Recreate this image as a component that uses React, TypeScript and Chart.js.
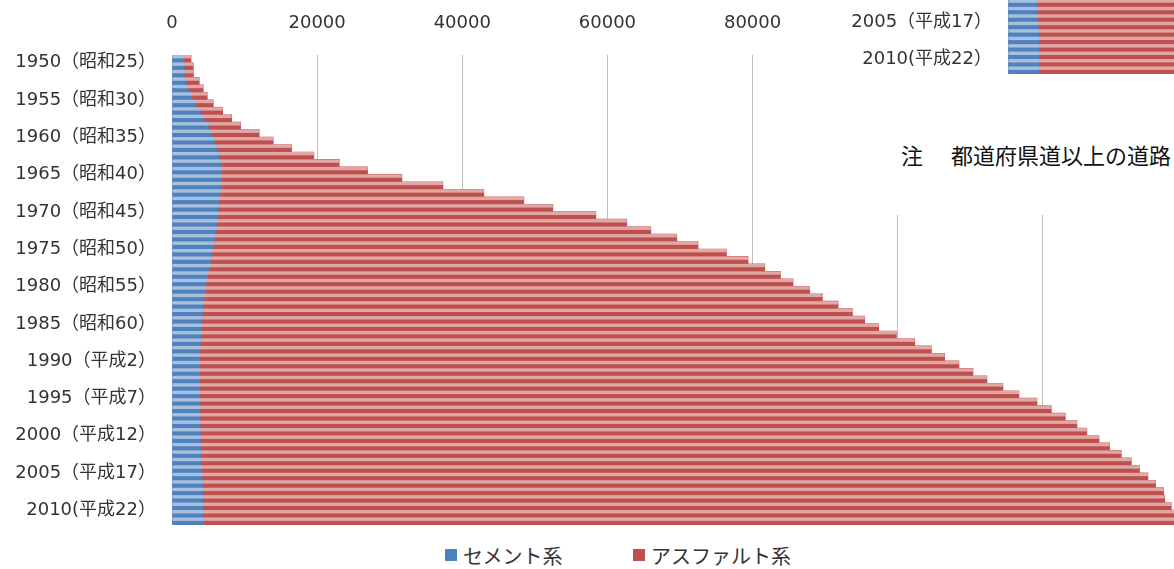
import React, { useEffect, useRef } from 'react';
import { Chart, registerables } from 'chart.js';

Chart.register(...registerables);

// Paved road length (km) by surface type, 1950–2012
const years = [
  1950, 1951, 1952, 1953, 1954, 1955, 1956, 1957, 1958, 1959,
  1960, 1961, 1962, 1963, 1964, 1965, 1966, 1967, 1968, 1969,
  1970, 1971, 1972, 1973, 1974, 1975, 1976, 1977, 1978, 1979,
  1980, 1981, 1982, 1983, 1984, 1985, 1986, 1987, 1988, 1989,
  1990, 1991, 1992, 1993, 1994, 1995, 1996, 1997, 1998, 1999,
  2000, 2001, 2002, 2003, 2004, 2005, 2006, 2007, 2008, 2009,
  2010, 2011, 2012,
];

const yearTickLabels = [
  '1950（昭和25）', '1955（昭和30）', '1960（昭和35）', '1965（昭和40）',
  '1970（昭和45）', '1975（昭和50）', '1980（昭和55）', '1985（昭和60）',
  '1990（平成2）', '1995（平成7）', '2000（平成12）', '2005（平成17）',
  '2010(平成22）',
];

const cementKm = [
  1560, 1700, 1700, 1930, 2200, 2710, 3170, 3860, 4410, 5000,
  5470, 5830, 6150, 6510, 6700, 6840, 6820, 6700, 6610, 6470,
  6400, 6340, 6200, 6060, 5850, 5690, 5510, 5300, 5100, 4890,
  4680, 4550, 4410, 4270, 4200, 4130, 4060, 3990, 3930, 3860,
  3790, 3780, 3780, 3790, 3800, 3820, 3830, 3840, 3850, 3870,
  3900, 3910, 3930, 3950, 3980, 4060, 4150, 4200, 4250, 4270,
  4290, 4300, 4310,
];

const asphaltKm = [
  1060, 1230, 1250, 1830, 2110, 2150, 2520, 3120, 3810, 4460,
  6550, 8120, 10330, 13040, 16340, 20110, 24860, 30630, 36360, 42010,
  46080, 52060, 56470, 59920, 63710, 66800, 70890, 74080, 76580, 78950,
  80900, 83330, 85220, 87510, 89560, 91320, 93320, 95830, 98410, 100780,
  102680, 104660, 106590, 108510, 110700, 112890, 115360, 117330, 119250, 120830,
  122170, 123820, 125270, 126860, 128210, 129270, 130330, 131340, 132390, 132530,
  133410, 134100, 134690,
];

const seriesNames = ['セメント系', 'アスファルト系'];
const seriesColors = ['#4F81BD', '#C0504D'];
const axisMin = 0;
const axisMax = 140000;
const axisStep = 20000;
const noteHead = '注';
const noteBody = '都道府県道以上の道路';

const FONT = "'DejaVu Sans', 'Noto Sans CJK JP', sans-serif";
const CJK_FONT = "'Noto Sans CJK JP', 'DejaVu Sans', sans-serif";
const TEXT_COLOR = '#333333';

// Lightens the upper part of every bar to give the banded look
const barSheen = {
  id: 'barSheen',
  afterDatasetsDraw(chart: any) {
    const ctx = chart.ctx;
    ctx.save();
    ctx.fillStyle = 'rgba(255,255,255,0.5)';
    chart.data.datasets.forEach((_: any, di: number) => {
      const meta = chart.getDatasetMeta(di);
      meta.data.forEach((bar: any) => {
        const { x, y, base, height } = bar.getProps(['x', 'y', 'base', 'height'], true);
        const left = Math.min(x, base);
        const w = Math.abs(x - base);
        const top = y - height / 2;
        ctx.fillRect(left, top, w, height * 0.45);
      });
    });
    ctx.restore();
  },
};

const CANVAS_W = 1200;
const CANVAS_H = 530;

function RoadFigure() {
  const ref = useRef<HTMLCanvasElement>(null);

  useEffect(() => {
    const canvas = ref.current;
    if (!canvas) return;
    const chart = new Chart(canvas, {
      type: 'bar',
      data: {
        labels: years.map(String),
        datasets: [
          {
            label: seriesNames[0],
            data: cementKm,
            backgroundColor: seriesColors[0],
            borderWidth: 0,
            barPercentage: 1,
            categoryPercentage: 1,
          },
          {
            label: seriesNames[1],
            data: asphaltKm,
            backgroundColor: seriesColors[1],
            borderWidth: 0,
            barPercentage: 1,
            categoryPercentage: 1,
          },
        ],
      },
      options: {
        indexAxis: 'y',
        responsive: true,
        maintainAspectRatio: false,
        animation: false,
        devicePixelRatio: 1,
        layout: { padding: { left: 0, right: 12, top: 0, bottom: 5 } },
        plugins: {
          legend: { display: false },
          tooltip: { enabled: false },
        },
        scales: {
          x: {
            position: 'top',
            stacked: true,
            min: axisMin,
            max: axisMax,
            z: 1,
            border: { display: false },
            grid: {
              color: 'rgba(110,110,110,0.45)',
              lineWidth: 1,
              drawTicks: false,
            },
            ticks: {
              stepSize: axisStep,
              padding: 21,
              color: TEXT_COLOR,
              font: { family: FONT, size: 18 },
              callback: (v: any) => String(v),
            },
            afterFit: (scale: any) => {
              scale.height = 55;
              scale.paddingLeft = 0;
              scale.paddingRight = 0;
            },
          },
          y: {
            stacked: true,
            border: { display: false },
            grid: { display: false },
            ticks: {
              autoSkip: false,
              padding: 8,
              labelOffset: 4,
              color: TEXT_COLOR,
              font: { family: FONT, size: 18 },
              callback: (_v: any, i: number) => {
                const yr = years[i];
                return yr % 5 === 0 ? yearTickLabels[(yr - years[0]) / 5] : '';
              },
            },
            afterFit: (scale: any) => {
              scale.width = 172;
              scale.paddingTop = 0;
              scale.paddingBottom = 0;
            },
          },
        },
      },
      plugins: [barSheen],
    } as any);
    return () => chart.destroy();
  }, []);

  const legendItem = (i: number, left: number) => (
    <div
      key={i}
      style={{
        position: 'absolute',
        left,
        top: 543,
        height: 24,
        display: 'flex',
        alignItems: 'center',
        whiteSpace: 'nowrap',
        fontFamily: CJK_FONT,
        fontSize: 20,
        color: TEXT_COLOR,
      }}
    >
      <span
        style={{
          display: 'inline-block',
          width: 12,
          height: 12,
          background: seriesColors[i],
          marginRight: 6,
        }}
      />
      {seriesNames[i]}
    </div>
  );

  const noteStyle = {
    position: 'absolute' as const,
    top: 592,
    fontFamily: CJK_FONT,
    fontSize: 22,
    lineHeight: '26px',
    color: '#111',
    whiteSpace: 'nowrap' as const,
  };

  return (
    <div style={{ position: 'relative', width: 1244, height: 668, background: '#fff' }}>
      <div style={{ position: 'absolute', left: 0, top: 0, width: CANVAS_W, height: CANVAS_H }}>
        <canvas ref={ref} />
      </div>
      {legendItem(0, 445)}
      {legendItem(1, 633)}
      <div style={{ ...noteStyle, left: 65 }}>{noteHead}</div>
      <div style={{ ...noteStyle, left: 115 }}>{noteBody}</div>
    </div>
  );
}

export default function App() {
  return (
    <div
      style={{
        position: 'fixed',
        left: 0,
        top: 0,
        width: 1174,
        height: 569,
        overflow: 'hidden',
        background: '#fff',
      }}
    >
      <div style={{ position: 'absolute', left: 0, top: 0 }}>
        <RoadFigure />
      </div>
      <div
        style={{
          position: 'absolute',
          left: 836,
          top: 0,
          width: 338,
          height: 215,
          overflow: 'hidden',
          background: '#fff',
        }}
      >
        <div style={{ position: 'absolute', left: 0, top: -451 }}>
          <RoadFigure />
        </div>
      </div>
    </div>
  );
}
